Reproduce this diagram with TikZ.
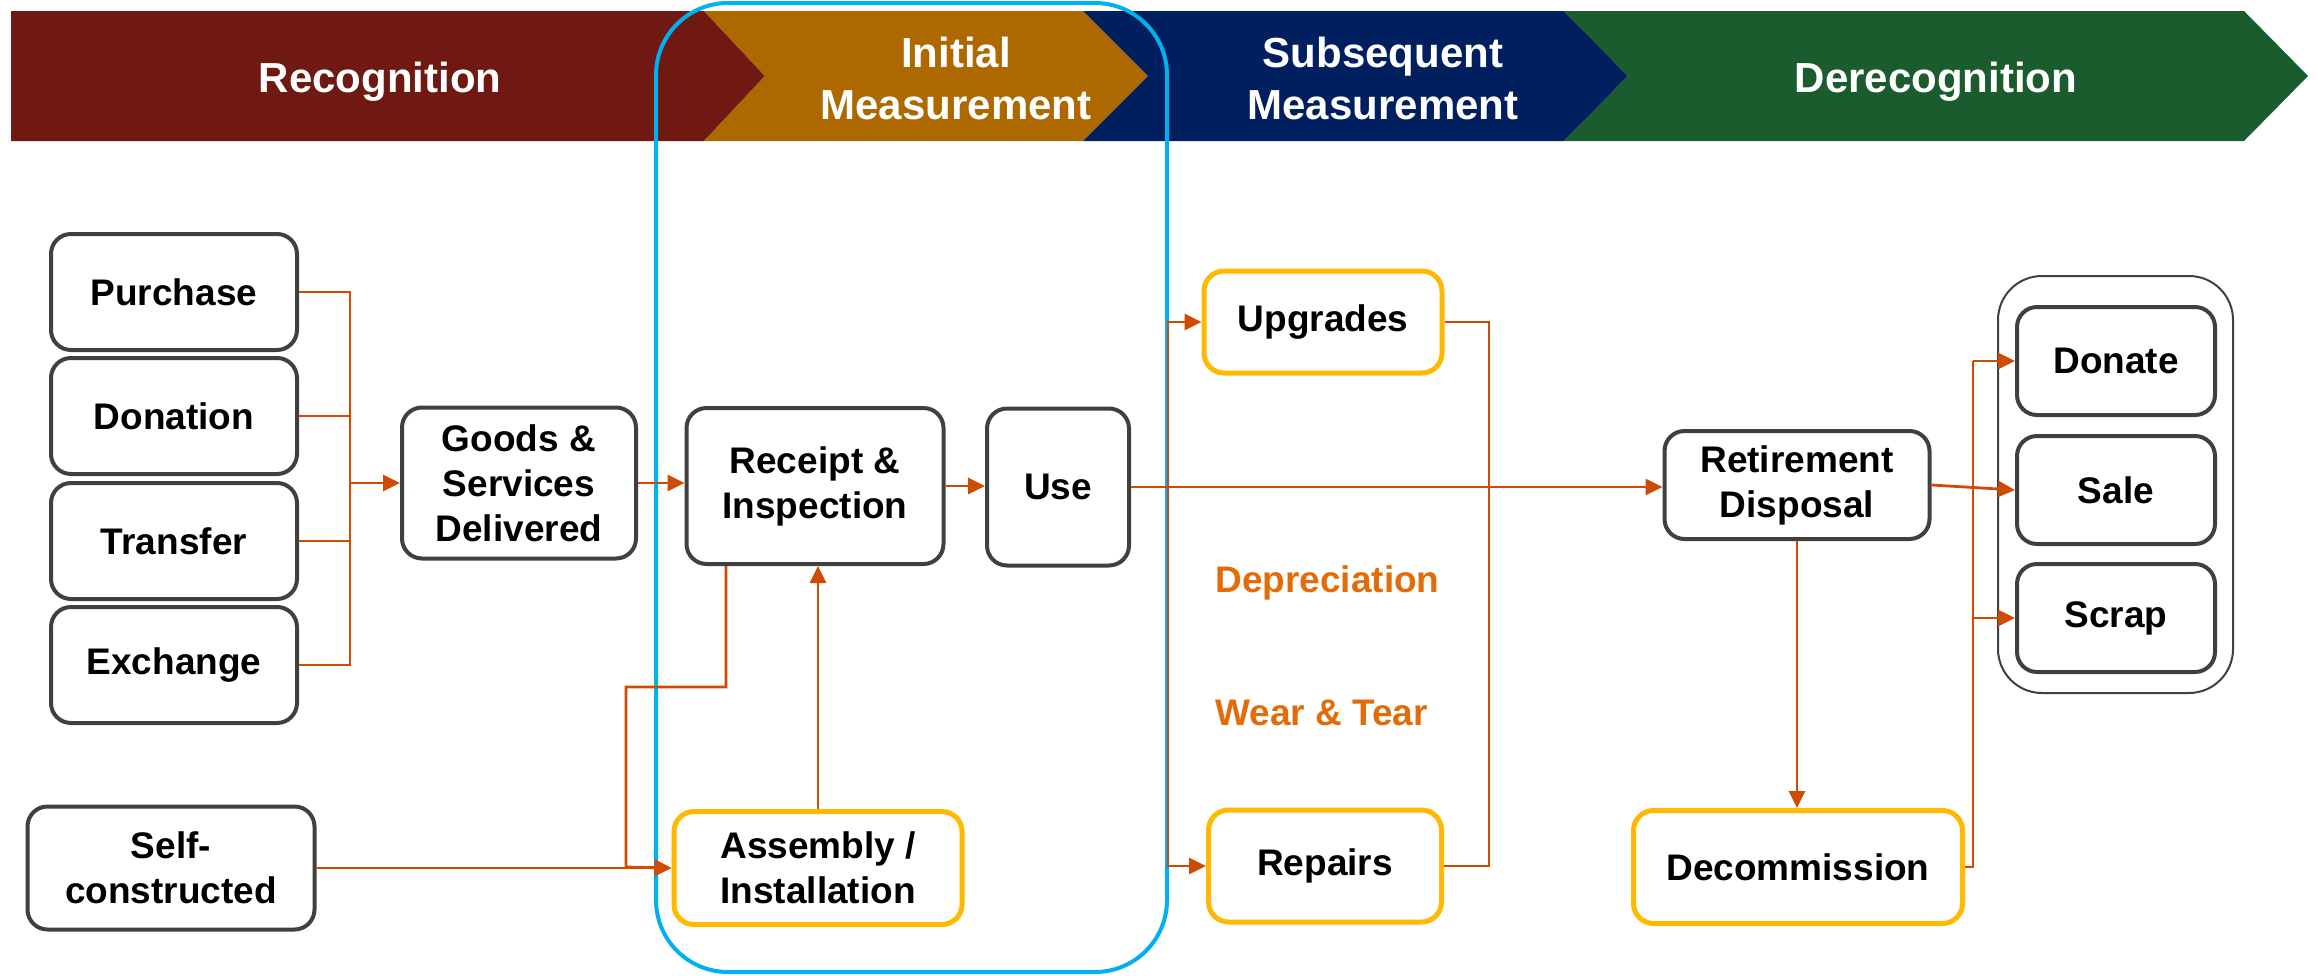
\documentclass[tikz,border=0pt]{standalone}
\usepackage{fontspec}
\setmainfont{Liberation Sans}
\usetikzlibrary{arrows.meta}
\definecolor{recog}{HTML}{701812}
\definecolor{initm}{HTML}{AD6800}
\definecolor{subsm}{HTML}{001F5F}
\definecolor{derec}{HTML}{1A5C2E}
\definecolor{connc}{HTML}{D04A02}
\definecolor{boxgray}{HTML}{404040}
\definecolor{ylw}{HTML}{FFB900}
\definecolor{skyb}{HTML}{00B0F0}
\definecolor{deptxt}{HTML}{E36C09}
\begin{document}
\begin{tikzpicture}[x=0.5pt,y=-0.5pt,
  box/.style={draw=boxgray, line width=2pt, rounded corners=10pt, fill=white, align=center,
    font=\bfseries\fontsize{18.5pt}{22.5pt}\selectfont, inner sep=0pt},
  ybox/.style={box, draw=ylw, line width=2.5pt},
  conn/.style={draw=connc, line width=1.4pt},
  arr/.style={conn, -{Triangle[length=8.5pt,width=8pt]}},
  banner/.style={text=white, font=\bfseries\fontsize{21pt}{26pt}\selectfont, align=center},
  note/.style={text=deptxt, font=\bfseries\fontsize{18.5pt}{22.5pt}\selectfont, anchor=west, inner sep=0pt}
]
\useasboundingbox (0,0) rectangle (2318,975);
% banner
\fill[recog] (11,11) -- (704,11) -- (765,76) -- (704,141) -- (11,141) -- cycle;
\fill[initm] (704,11) -- (1083,11) -- (1148,76) -- (1083,141) -- (704,141) -- (765,76) -- cycle;
\fill[subsm] (1083,11) -- (1564,11) -- (1628,76) -- (1564,141) -- (1083,141) -- (1148,76) -- cycle;
\fill[derec] (1564,11) -- (2244,11) -- (2308,76) -- (2244,141) -- (1564,141) -- (1628,76) -- cycle;
\node[banner] (tRecog) at (380,82) {Recognition};
\node[banner] (tInit) at (956,78) {Initial\\Measurement};
\node[banner] (tSubs) at (1383,78) {Subsequent\\Measurement};
\node[banner] (tDerec) at (1936,82) {Derecognition};
% frames
\node[draw=skyb, line width=2pt, rounded corners=36pt, minimum width=255.5pt, minimum height=484.5pt, inner sep=0pt] (blue) at (911.5,487.5) {};
\node[draw=boxgray, line width=1pt, rounded corners=22pt, minimum width=117.5pt, minimum height=208.5pt, inner sep=0pt] (disp) at (2115.5,484.5) {};
% boxes
\node[box, minimum width=123pt, minimum height=58pt] (purchase) at (174,292) {Purchase};
\node[box, minimum width=123pt, minimum height=58pt] (donation) at (174,416) {Donation};
\node[box, minimum width=123pt, minimum height=58pt] (transfer) at (174,541) {Transfer};
\node[box, minimum width=123pt, minimum height=58pt] (exchange) at (174,665) {Exchange};
\node[box, minimum width=117pt, minimum height=75.5pt] (goods) at (519,483) {Goods \&\\Services\\Delivered};
\node[box, minimum width=128.5pt, minimum height=78pt] (receipt) at (815,486) {Receipt \&\\Inspection};
\node[box, minimum width=71pt, minimum height=78.5pt] (use) at (1058,487) {Use};
\node[ybox, minimum width=144pt, minimum height=56.5pt] (assembly) at (818,868) {Assembly /\\Installation};
\node[box, minimum width=143.5pt, minimum height=61.5pt] (self) at (171,868) {Self-\\constructed};
\node[ybox, minimum width=119pt, minimum height=51pt] (upgrades) at (1323,322) {Upgrades};
\node[ybox, minimum width=116.5pt, minimum height=56pt] (repairs) at (1325,866) {Repairs};
\node[box, minimum width=132.5pt, minimum height=54pt] (retire) at (1797,485) {Retirement\\Disposal};
\node[ybox, minimum width=164.5pt, minimum height=56.5pt] (decom) at (1798,867) {Decommission};
\node[box, minimum width=99pt, minimum height=54pt] (donate) at (2116,361) {Donate};
\node[box, minimum width=99pt, minimum height=54pt] (sale) at (2116,490) {Sale};
\node[box, minimum width=99pt, minimum height=54pt] (scrap) at (2116,618) {Scrap};
\node[note] (dep) at (1215,583) {Depreciation};
\node[note] (wear) at (1215,713) {Wear \& Tear};
% connectors
\coordinate (bus) at (350,483);
\draw[conn] (purchase.east) -| (bus);
\draw[conn] (donation.east) -| (bus);
\draw[conn] (transfer.east) -| (bus);
\draw[conn] (exchange.east) -| (bus);
\draw[arr] (bus) -- (goods.west);
\draw[arr] (goods.east) -- (goods.east -| receipt.west);
\draw[arr] (receipt.east) -- (receipt.east -| use.west);
\draw[arr] (use.east) -- (use.east -| retire.west);
\coordinate (j1) at (726,687);
\coordinate (j2) at (626,867);
\draw[arr] (receipt.south -| j1) -- (j1) -| (j2) -- (assembly.west);
\draw[arr] (self.east) -- (assembly.west);
\draw[arr] (assembly.north) -- (assembly.north |- receipt.south);
\coordinate (fk) at (1168,487);
\draw[arr] (fk) |- (upgrades.west);
\draw[arr] (fk) |- (repairs.west);
\coordinate (br) at (1489,600);
\draw[conn] (upgrades.east) -| (br) |- (repairs.east);
\draw[arr] (retire.south) -- (retire.south |- decom.north);
\coordinate (dv) at (1973,361);
\draw[conn] (decom.east) -| (dv);
\draw[arr] (dv) -- (donate.west);
\draw[arr] (dv |- scrap.west) -- (scrap.west);
\draw[arr] (retire.east) -- (sale.west);
\end{tikzpicture}
\end{document}
